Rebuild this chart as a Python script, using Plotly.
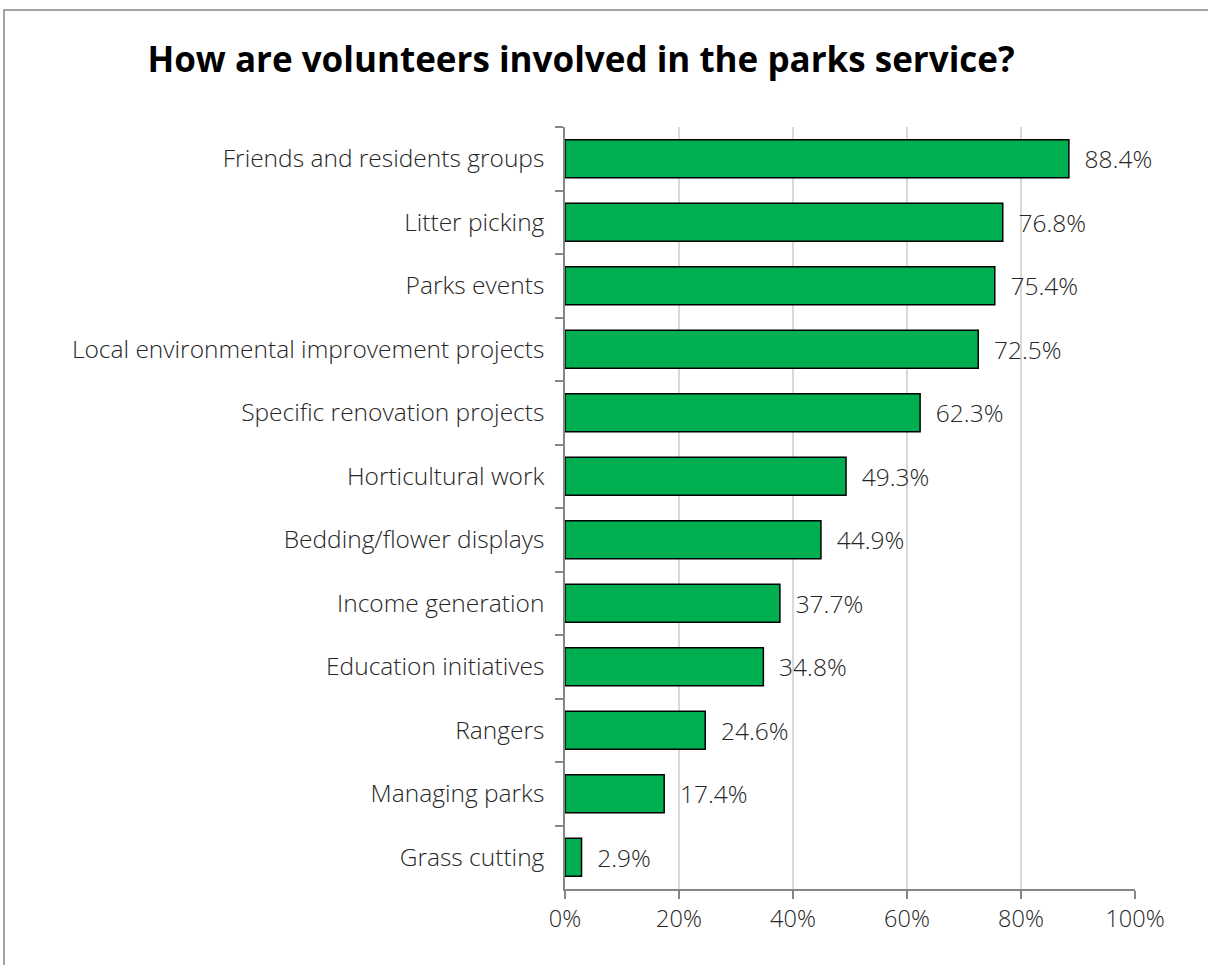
import plotly.graph_objects as go

categories = [
    "Friends and residents groups",
    "Litter picking",
    "Parks events",
    "Local environmental improvement projects",
    "Specific renovation projects",
    "Horticultural work",
    "Bedding/flower displays",
    "Income generation",
    "Education initiatives",
    "Rangers",
    "Managing parks",
    "Grass cutting",
]
values = [88.4, 76.8, 75.4, 72.5, 62.3, 49.3, 44.9, 37.7, 34.8, 24.6, 17.4, 2.9]
x_ticks = [0, 20, 40, 60, 80, 100]
x_tick_labels = ["0%", "20%", "40%", "60%", "80%", "100%"]

label_font = dict(family="Open Sans, Lato, sans-serif", size=24.5, color="#262626", weight=300)
tick_font = dict(family="Open Sans, Lato, sans-serif", size=23.5, color="#262626", weight=300)

fig = go.Figure(
    go.Bar(
        y=categories,
        x=values,
        orientation="h",
        marker=dict(color="#00B050", line=dict(color="#000000", width=1.5)),
        text=[f"{v:.1f}%" for v in values],
        textposition="outside",
        texttemplate="  %{text}",
        textfont=label_font,
        cliponaxis=False,
    )
)

fig.update_layout(
    width=1208,
    height=965,
    margin=dict(l=565, r=73, t=127, b=76),
    paper_bgcolor="white",
    plot_bgcolor="white",
    showlegend=False,
    bargap=0.4,
    title=dict(
        text="<b>How are volunteers involved in the parks service?</b>",
        x=0.481,
        xanchor="center",
        y=0.938,
        yanchor="middle",
        font=dict(family="Open Sans, sans-serif", size=35, color="#000000"),
    ),
    xaxis=dict(
        range=[0, 100],
        tickvals=x_ticks,
        ticktext=x_tick_labels,
        showgrid=True,
        gridcolor="#D9D9D9",
        gridwidth=1.5,
        showline=True,
        linecolor="#868686",
        linewidth=1.5,
        ticks="outside",
        ticklen=8,
        tickcolor="#868686",
        tickwidth=1.5,
        tickfont=tick_font,
        zeroline=False,
        fixedrange=True,
    ),
    yaxis=dict(
        autorange="reversed",
        showline=True,
        linecolor="#868686",
        linewidth=1.5,
        ticks="outside",
        tickson="boundaries",
        ticklen=8,
        tickcolor="#868686",
        tickwidth=1.5,
        tickfont=label_font,
        ticklabelstandoff=14,
        showgrid=False,
    ),
    shapes=[
        dict(
            type="rect",
            xref="paper",
            yref="paper",
            x0=-561 / 570,
            x1=1.2,
            y0=-0.2,
            y1=1 + 117 / 762,
            line=dict(color="#868686", width=1.5),
            fillcolor="rgba(0,0,0,0)",
            layer="below",
        )
    ],
)

fig.write_html("out.html")
